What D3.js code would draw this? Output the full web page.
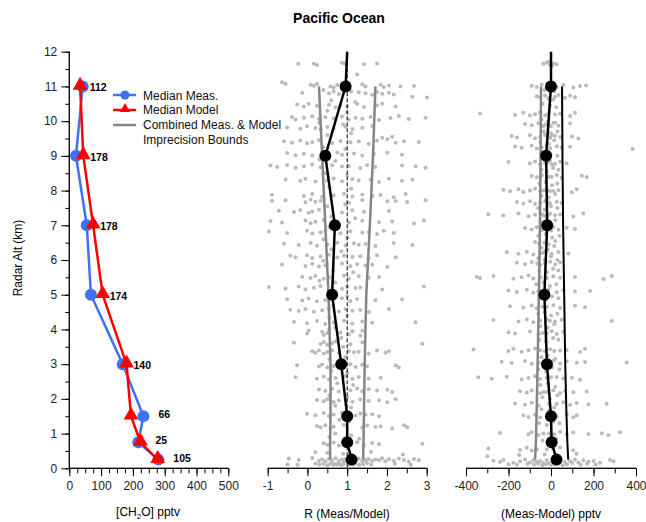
<!DOCTYPE html>
<html>
<head>
<meta charset="utf-8">
<script src="https://cdn.jsdelivr.net/npm/d3@7"></script>
<style>
  body { margin: 0; background: #fff; }
  text { font-family: "Liberation Sans", Arial, sans-serif; }
</style>
</head>
<body>
<script>
// altitude bins (km) and sample counts
var alts = [11, 9, 7, 5, 3, 1.5, 0.75, 0.25];
var counts = [112, 178, 178, 174, 140, 66, 25, 105];
// left panel: median CH2O (pptv)
var medMeas = [42, 21, 55, 68, 168, 233, 217, 280];
var medModel = [34, 44, 75, 105, 180, 194, 224, 278];
// middle panel: median ratio and imprecision bounds
var medRatio = [0.96, 0.45, 0.69, 0.62, 0.85, 1.0, 1.0, 1.11];
var ratioLo = [0.29, 0.37, 0.45, 0.53, 0.58, 0.58, 0.57, 0.57];
var ratioHi = [1.71, 1.65, 1.57, 1.48, 1.44, 1.42, 1.41, 1.40];
// right panel: median difference and bounds
var medDiff = [0, -23, -18, -31, -19, 0, 3, 26];
var diffLo = [-47, -49, -52, -57, -63, -68, -71, -75];
var diffHi = [52, 54, 57, 62, 67, 73, 77, 81];
// value at top of the plot (12 km) where the median lines start
var topRatio = 1.0, topDiff = 0;

// individual points [alt, R]
var ratioPts = [
[11.65,-0.23],[11.65,0.16],[11.62,0.24],[11.68,0.87],[11.66,0.94],[11.64,1.42],[11.66,1.75],[11.34,1.25],
[11.12,-0.64],[11.08,-0.55],[11.05,0.08],[11.02,0.16],[11.07,0.24],[11.0,0.58],[10.96,0.66],[11.04,0.75],[11.06,1.38],[11.0,1.46],[11.05,1.84],[10.98,1.92],[11.03,2.05],[11.0,2.34],[11.01,2.68],
[10.82,-0.13],[10.8,0.54],[10.85,0.66],[10.78,0.79],[10.83,1.29],[10.8,1.46],[10.76,1.63],[10.84,1.75],[10.79,1.88],[10.82,2.05],[10.77,2.17],[10.7,2.64],[10.68,3.01],
[10.48,-0.26],[10.42,-0.09],[10.5,0.03],[10.44,0.24],[10.47,0.54],[10.4,0.71],[10.46,0.83],[10.43,1.0],[10.49,1.25],[10.41,1.42],[10.45,1.75],[10.5,1.88],[10.42,2.22],
[10.12,-0.39],[10.05,-0.30],[10.1,-0.09],[10.14,0.12],[10.06,0.29],[10.11,0.45],[10.08,0.66],[10.13,0.87],[10.04,1.04],[10.1,1.21],[10.07,1.38],[10.12,1.59],[10.03,1.80],[10.09,2.09],[10.15,2.30],[10.06,2.55],[10.1,2.97],
[9.82,-0.51],[9.78,-0.18],[9.85,-0.01],[9.8,0.20],[9.76,0.33],[9.83,0.50],[9.79,0.66],[9.84,0.96],[9.77,1.13],[9.81,1.38],[9.86,1.63],[9.52,1.88],[9.48,2.01],[9.55,2.13],
[9.42,-0.59],[9.38,-0.39],[9.44,-0.18],[9.36,-0.01],[9.4,0.12],[9.45,0.29],[9.37,0.62],[9.43,0.83],[9.39,1.08],[9.41,1.29],[9.35,1.54],[9.44,1.75],[9.38,2.22],[9.42,2.43],[9.4,2.80],
[9.08,-0.51],[9.02,-0.30],[9.06,-0.09],[9.0,0.12],[9.04,0.54],[9.1,0.75],[9.03,0.87],[9.07,1.17],[9.01,1.38],[9.05,1.67],[9.09,2.01],[9.03,2.38],
[8.72,-0.93],[8.68,-0.76],[8.74,-0.51],[8.66,-0.30],[8.7,-0.09],[8.75,0.12],[8.67,0.33],[8.73,0.62],[8.69,0.87],[8.71,1.04],[8.65,1.33],[8.74,1.50],[8.68,1.71],[8.72,2.38],[8.7,2.72],[8.66,2.97],
[8.32,-0.55],[8.28,-0.18],[8.34,-0.05],[8.26,0.20],[8.3,0.50],[8.35,0.66],[8.27,0.87],[8.33,1.13],[8.29,1.29],[8.31,1.59],[8.25,1.80],[8.34,2.05],[8.28,2.38],[8.32,2.64],
[7.88,-0.89],[7.84,-0.09],[7.9,0.12],[7.82,0.37],[7.86,0.66],[7.91,0.92],[7.83,1.13],[7.89,1.38],[7.85,1.63],[7.87,1.84],[7.81,2.17],[7.9,2.47],
[7.7,-0.89],[7.72,-0.55],[7.66,-0.05],[7.74,0.08],[7.68,0.20],[7.71,0.33],[7.65,1.04],[7.73,1.38],[7.69,2.01],[7.7,2.22],[7.67,2.51],[7.72,2.97],
[7.42,-0.72],[7.38,-0.34],[7.44,-0.18],[7.36,0.03],[7.4,0.12],[7.45,0.29],[7.37,0.87],[7.43,1.13],[7.39,1.42],[7.41,2.05],
[7.12,-0.93],[7.08,-0.64],[7.14,-0.05],[7.06,0.08],[7.1,0.20],[7.15,0.41],[7.07,1.04],[7.13,1.38],[7.09,1.80],[7.11,2.13],[7.05,2.68],[7.14,2.93],
[6.82,-0.97],[6.78,-0.51],[6.84,-0.01],[6.76,0.12],[6.8,0.33],[6.85,0.45],[6.77,0.83],[6.83,1.08],[6.79,1.38],[6.81,1.54],[6.75,1.75],[6.84,1.92],[6.78,2.17],
[6.47,-0.59],[6.43,-0.22],[6.49,0.08],[6.41,0.24],[6.45,0.50],[6.5,0.75],[6.42,0.96],[6.48,1.17],[6.44,1.29],[6.46,1.46],[6.4,1.71],[6.49,2.17],[6.43,2.64],
[6.12,-0.43],[6.08,-0.30],[6.14,-0.01],[6.06,0.12],[6.1,0.33],[6.15,0.54],[6.07,0.75],[6.13,0.92],[6.09,1.13],[6.11,1.33],[6.05,1.54],[6.14,1.75],[6.08,2.22],
[5.87,-0.64],[5.83,-0.05],[5.89,0.12],[5.81,0.29],[5.85,0.45],[5.9,0.87],[5.82,1.08],[5.88,1.25],[5.84,1.46],[5.86,1.63],[5.8,2.01],
[5.52,-0.13],[5.48,0.08],[5.54,0.20],[5.46,0.41],[5.5,0.54],[5.55,0.92],[5.47,1.04],[5.53,1.29],[5.49,1.54],[5.51,1.80],
[5.22,-0.97],[5.18,-0.55],[5.24,-0.22],[5.16,-0.05],[5.2,0.16],[5.25,0.33],[5.17,0.87],[5.23,1.00],[5.19,1.21],[5.21,1.33],[5.15,1.88],[5.24,2.93],
[4.87,-0.51],[4.83,-0.13],[4.89,0.03],[4.81,0.24],[4.85,0.45],[4.9,0.87],[4.82,1.08],[4.88,1.25],[4.84,1.71],[4.86,2.38],
[4.57,-0.43],[4.53,-0.22],[4.59,-0.05],[4.51,0.16],[4.55,0.37],[4.6,0.54],[4.52,0.79],[4.58,0.96],[4.54,1.13],[4.56,1.33],[4.5,1.54],[4.59,2.05],
[4.22,-0.34],[4.18,-0.01],[4.24,0.24],[4.16,0.45],[4.2,0.66],[4.25,0.92],[4.17,1.13],[4.23,1.38],[4.19,1.63],[4.21,2.72],
[3.97,0.03],[3.93,0.37],[3.99,0.54],[3.91,0.83],[3.95,1.13],[3.96,1.38],
[3.88,-0.01],[3.84,0.41],[3.9,0.50],[3.86,1.04],[3.82,1.33],
[3.62,-0.34],[3.58,0.33],[3.64,0.41],[3.56,0.50],[3.6,0.62],[3.65,0.71],[3.57,1.08],[3.63,1.38],[3.59,2.89],
[3.37,0.12],[3.33,0.20],[3.39,0.29],[3.31,0.41],[3.35,0.50],[3.4,0.62],[3.32,0.79],[3.38,1.04],[3.34,1.17],[3.36,1.29],[3.3,1.54],[3.39,1.75],[3.33,1.96],[3.37,2.05],
[2.97,-0.26],[2.93,0.29],[2.99,0.37],[2.91,0.50],[2.95,0.66],[3.0,1.08],[2.92,1.21],[2.98,1.38],[2.94,1.50],[2.96,2.22],[2.9,2.30],
[2.62,-0.30],[2.58,0.24],[2.64,0.41],[2.56,0.54],[2.6,0.71],[2.65,0.96],[2.57,1.13],[2.63,1.29],[2.59,1.54],[2.61,1.84],
[2.27,0.29],[2.23,0.45],[2.29,0.62],[2.21,0.79],[2.25,1.08],[2.3,1.25],[2.22,1.38],[2.28,1.54],[2.24,1.75],[2.26,2.01],[2.2,2.13],
[1.97,0.24],[1.93,0.41],[1.99,0.50],[1.91,0.66],[1.95,0.79],[2.0,0.96],[1.92,1.13],[1.98,1.33],[1.94,1.54],[1.96,1.80],[1.9,2.01],[1.99,2.22],
[1.57,-0.01],[1.53,0.20],[1.59,0.41],[1.51,0.54],[1.55,0.66],[1.6,0.87],[1.52,1.21],[1.58,1.33],[1.54,1.46],[1.56,1.63],[1.5,1.80],
[1.22,0.24],[1.18,0.33],[1.24,0.45],[1.16,0.58],[1.2,0.66],[1.25,0.92],[1.17,1.38],[1.23,1.50],[1.19,1.71],[1.21,1.84],[1.15,2.13],[1.24,2.43],[1.18,2.51],
[0.72,0.41],[0.68,0.50],[0.74,0.66],[0.66,0.79],[0.7,0.96],[0.75,1.25],[0.67,1.42],[0.73,1.63],[0.69,1.80],[0.71,2.89],
[0.45,0.5],[0.42,0.9],[0.48,1.6],[0.4,2.4],[0.46,0.2],
[0.28,-0.47],[0.24,-0.22],[0.3,0.12],[0.22,0.29],[0.26,0.37],[0.2,0.45],[0.27,0.54],[0.23,0.62],[0.29,0.71],[0.21,0.79],[0.25,0.87],[0.19,0.92],[0.26,0.96],[0.22,1.21],[0.28,1.29],[0.2,1.38],[0.24,1.46],[0.27,1.54],[0.21,1.63],[0.25,1.71],[0.23,1.80],[0.29,1.88],[0.2,1.96],[0.26,2.05],[0.22,2.17],[0.28,2.30],[0.24,2.43],[0.19,2.55],[0.27,2.68],[0.23,2.80],
[0.12,-0.5],[0.1,-0.25],[0.14,0.2],[0.11,0.3],[0.13,0.4],[0.09,0.5],[0.12,0.55],[0.15,0.6],[0.1,0.65],[0.13,0.7],[0.11,0.75],[0.14,0.8],[0.09,0.85],[0.12,0.9],[0.15,1.0],[0.1,1.05],[0.13,1.1],[0.11,1.15],[0.14,1.2],[0.1,1.3],[0.12,1.4],[0.15,1.5],[0.11,1.6],[0.13,2.2],[0.1,2.6],
[10.9,0.4],[10.85,1.1],[10.6,0.6],[10.55,1.2],[10.3,0.5],[10.25,1.0],[9.95,0.3],[9.9,0.9],[9.6,0.5],[9.65,1.1],[9.25,0.4],[9.2,0.95],[8.9,0.3],[8.85,0.7],[8.5,0.45],[8.45,1.0],[8.1,0.55],[8.05,1.1],[7.55,0.5],[7.6,0.95],[7.25,0.6],[7.2,1.2],[6.95,0.55],[6.6,0.4],[6.65,1.0],[6.3,0.6],[6.25,0.85],[5.98,0.4],[5.7,0.65],[5.65,1.15],[5.35,0.7],[5.4,0.3],[5.0,0.55],[4.95,1.0],[4.7,0.65],[4.35,0.55],[4.4,1.0],[4.05,0.7],[3.75,0.85],[3.5,0.9],[3.15,0.55],[3.2,0.95],[2.8,0.6],[2.75,1.0],[2.45,0.75],[2.4,1.15],[2.1,0.55],[2.05,1.0],[1.8,0.7],[1.75,1.1],[1.4,0.8],[1.35,1.05],[1.0,0.7],[0.95,1.1],[0.9,0.55],[0.85,1.3]
];

// individual points [alt, Meas-Model pptv]
var diffPts = [
[11.65,-36],[11.68,-20],[11.62,-4],[11.66,11],[11.64,27],[11.7,-12],[11.6,5],
[11.02,-91],[10.98,-67],[11.05,-44],[10.96,-20],[11.03,3],[10.99,27],[11.04,58],[10.97,105],[11.01,137],[11.03,165],
[10.72,-67],[10.68,-51],[10.74,-28],[10.66,-12],[10.7,19],[10.75,35],[10.67,66],[10.73,90],[10.69,113],[10.6,-5],[10.62,10],
[10.22,-334],[10.18,-169],[10.24,-130],[10.16,-99],[10.2,-75],[10.25,-51],[10.17,-28],[10.23,-12],[10.19,19],[10.21,43],[10.15,90],[10.24,113],
[9.92,-122],[9.88,-91],[9.94,-59],[9.86,-36],[9.9,-12],[9.95,11],[9.87,35],[9.93,90],[9.9,-25],[9.85,0],
[9.57,-185],[9.53,-161],[9.59,-99],[9.51,-75],[9.55,-51],[9.6,-28],[9.52,-4],[9.58,19],[9.54,43],[9.56,98],[9.5,129],[9.55,-15],[9.6,5],
[9.27,-169],[9.23,-138],[9.29,-91],[9.21,-67],[9.25,-44],[9.3,-20],[9.22,-4],[9.28,27],[9.24,50],[9.26,90],[9.2,384],
[8.82,-200],[8.78,-99],[8.84,-75],[8.76,-51],[8.8,-28],[8.85,-4],[8.77,19],[8.83,43],[8.79,74],[8.8,-15],[8.75,5],
[8.42,-91],[8.38,-67],[8.44,-44],[8.36,-20],[8.4,3],[8.45,27],[8.37,50],[8.43,145],[8.39,168],[8.4,-10],
[8.02,-224],[7.98,-193],[8.04,-153],[7.96,-130],[8.0,-99],[8.05,-75],[7.97,-51],[8.03,-20],[7.99,11],[8.01,35],[7.95,98],[8.04,121],[8.0,-35],[7.98,-5],
[7.67,-161],[7.63,-130],[7.69,-99],[7.61,-75],[7.65,-51],[7.7,-28],[7.62,-4],[7.68,27],[7.64,50],[7.66,-15],
[7.32,-295],[7.28,-224],[7.34,-153],[7.26,-106],[7.3,-75],[7.35,-51],[7.27,-28],[7.33,-4],[7.29,19],[7.31,43],[7.25,105],[7.34,152],[7.3,-40],[7.28,-15],
[6.92,-122],[6.88,-91],[6.94,-67],[6.86,-44],[6.9,-20],[6.95,11],[6.87,35],[6.93,74],[6.89,113],[6.9,-30],[6.85,0],
[6.52,-75],[6.48,-55],[6.5,-30],[6.45,-10],[6.55,20],
[6.22,-208],[6.18,-153],[6.24,-114],[6.16,-83],[6.2,-51],[6.25,-28],[6.17,3],[6.23,35],[6.19,82],[6.2,-40],
[5.92,-161],[5.88,-122],[5.94,-91],[5.86,-51],[5.9,-28],[5.95,-4],[5.87,19],[5.93,43],[5.9,-65],
[5.52,-350],[5.48,-334],[5.54,-271],[5.46,-177],[5.5,-138],[5.55,-106],[5.47,-83],[5.53,11],[5.49,43],[5.51,113],[5.45,247],[5.54,286],[5.5,-50],[5.48,-20],
[5.12,-200],[5.08,-161],[5.14,-114],[5.06,-83],[5.1,-44],[5.15,-12],[5.07,27],[5.13,58],[5.09,113],[5.11,184],[5.1,-60],
[4.67,-193],[4.63,-130],[4.69,-91],[4.61,-67],[4.65,-20],[4.7,11],[4.62,43],[4.68,113],[4.64,160],[4.65,-40],
[4.27,-271],[4.23,-153],[4.29,-114],[4.21,-83],[4.25,-51],[4.3,-20],[4.22,19],[4.28,50],[4.24,286],[4.25,-5],
[3.92,-200],[3.88,-169],[3.94,-99],[3.86,-59],[3.9,-20],[3.95,3],[3.87,27],[3.93,58],[3.9,-40],
[3.42,-365],[3.38,-200],[3.44,-177],[3.36,-138],[3.4,-106],[3.45,-75],[3.37,-28],[3.43,-4],[3.39,43],[3.41,74],[3.35,137],[3.44,160],[3.4,-50],[3.38,15],
[3.07,-232],[3.03,-185],[3.09,-122],[3.01,-91],[3.05,-59],[3.1,11],[3.02,43],[3.08,74],[3.04,121],[3.06,160],[3.05,356],[3.05,-30],
[2.62,-342],[2.58,-279],[2.64,-208],[2.56,-138],[2.6,-106],[2.65,-75],[2.57,-51],[2.63,27],[2.59,58],[2.61,98],[2.55,137],[2.6,-20],[2.62,0],
[2.22,-146],[2.18,-114],[2.24,-91],[2.16,-51],[2.2,-20],[2.25,11],[2.17,43],[2.23,66],[2.19,105],[2.21,168],[2.2,-35],
[1.87,-169],[1.83,-122],[1.89,-91],[1.81,-59],[1.85,27],[1.9,58],[1.82,90],[1.88,121],[1.84,176],[1.86,262],[1.85,-10],
[1.52,-130],[1.48,-106],[1.54,-75],[1.46,-51],[1.5,27],[1.55,74],[1.47,105],[1.53,121],[1.5,-20],
[1.02,-240],[0.98,-106],[1.04,-91],[0.96,-59],[1.0,-36],[1.05,43],[0.97,74],[1.03,105],[0.99,176],[1.01,239],[0.95,270],[1.04,325],[1.0,-10],[0.98,15],
[0.57,-295],[0.53,-146],[0.59,-114],[0.51,-91],[0.55,-67],[0.6,43],[0.52,105],[0.55,-20],[0.57,10],
[0.22,-271],[0.18,-240],[0.24,-224],[0.16,-177],[0.2,-146],[0.25,-122],[0.17,-99],[0.23,-83],[0.19,-67],[0.21,-51],[0.15,-36],[0.24,-20],[0.22,43],[0.18,66],[0.2,90],[0.25,113],[0.17,129],[0.23,152],[0.19,176],[0.21,200],[0.16,231],[0.24,278],[0.2,294],
[0.12,-200],[0.1,-160],[0.13,-110],[0.11,-80],[0.14,-60],[0.09,-40],[0.12,-25],[0.15,-10],[0.1,0],[0.13,10],[0.11,20],[0.14,35],[0.09,55],[0.12,75],[0.15,100],[0.1,140],[0.13,170],[0.11,210],[0.35,-300],[0.38,-150],[0.4,-30],[0.36,30],[0.42,120],
[10.9,-30],[10.85,15],[10.5,-40],[10.45,-5],[10.4,25],[10.05,-45],[10.0,-15],[9.95,20],[9.7,-35],[9.65,0],[9.7,30],[9.4,-50],[9.35,-10],[9.45,15],[9.1,-40],[9.05,-2],[9.0,30],[8.6,-45],[8.55,-20],[8.65,10],[8.6,35],[8.2,-55],[8.25,-25],[8.15,5],[8.2,30],[7.85,-45],[7.8,-10],[7.9,20],[7.5,-60],[7.45,-30],[7.55,0],[7.5,30],[7.1,-50],[7.05,-10],[7.15,20],[6.7,-60],[6.75,-25],[6.65,5],[6.7,40],[6.35,-45],[6.3,-15],[6.4,15],[6.05,-60],[6.0,-30],[6.1,0],[6.0,30],[5.7,-55],[5.65,-20],[5.75,10],[5.7,35],[5.3,-70],[5.35,-35],[5.25,-5],[5.3,25],[4.9,-55],[4.85,-25],[4.95,5],[4.9,35],[4.45,-60],[4.5,-30],[4.4,0],[4.45,30],[4.1,-50],[4.05,-15],[4.15,15],[3.7,-55],[3.65,-25],[3.75,10],[3.7,35],[3.2,-45],[3.25,-15],[3.15,20],[2.85,-60],[2.8,-25],[2.9,5],[2.85,40],[2.4,-50],[2.45,-15],[2.35,20],[2.05,-40],[2.0,-5],[2.1,30],[1.7,-45],[1.65,-10],[1.75,15],[1.3,-55],[1.25,-20],[1.35,10],[1.3,40],[0.8,-40],[0.75,-5],[0.85,25]
];

var legendItems = ["Median Meas.", "Median Model", "Combined Meas. & Model", "Imprecision Bounds"];

var width = 646, height = 522;
var svg = d3.select("body").append("svg")
    .attr("width", width)
    .attr("height", height);

var y = d3.scaleLinear().domain([0, 12]).range([468.3, 51.7]);
var xL = d3.scaleLinear().domain([0, 500]).range([69.3, 228.3]);
var xM = d3.scaleLinear().domain([-1, 3]).range([267.7, 426.7]);
var xR = d3.scaleLinear().domain([-400, 400]).range([466, 636]);

var blue = "#4070f4", red = "#ff0000", dotGray = "#bababa", boundGray = "#858585";
// plain hyphen for negatives, like the original
var fmt = function (d) { return String(d); };

// title
svg.append("text").attr("x", 339).attr("y", 23)
    .attr("text-anchor", "middle").style("font-size", "14px").style("font-weight", "bold")
    .text("Pacific Ocean");

// x axes (major + minor ticks)
function xAxis(scale, majors, minors) {
    var g = svg.append("g").attr("transform", "translate(0," + y(0) + ")");
    g.call(d3.axisBottom(scale).tickValues(minors).tickSize(5).tickFormat(""));
    var gm = svg.append("g").attr("transform", "translate(0," + y(0) + ")");
    gm.call(d3.axisBottom(scale).tickValues(majors).tickSize(8).tickPadding(5).tickFormat(fmt));
    [g, gm].forEach(function (a) {
        a.select(".domain").attr("d", "M" + scale.range()[0] + ",0H" + scale.range()[1]);
        a.selectAll("line, path").attr("stroke", "#000");
        a.selectAll("text").style("font-size", "12px").attr("fill", "#222");
    });
}
xAxis(xL, d3.range(0, 501, 100), d3.range(0, 501, 25));
xAxis(xM, d3.range(-1, 3.01, 1), d3.range(-1, 3.01, 0.5));
xAxis(xR, d3.range(-400, 401, 200), d3.range(-400, 401, 100));

// y axis (left panel only)
var gy = svg.append("g").attr("transform", "translate(" + xL(0) + ",0)");
gy.call(d3.axisLeft(y).tickValues(d3.range(0, 12.01, 0.5)).tickSize(4).tickFormat(""));
var gy2 = svg.append("g").attr("transform", "translate(" + xL(0) + ",0)");
gy2.call(d3.axisLeft(y).tickValues(d3.range(0, 13, 1)).tickSize(8).tickPadding(4).tickFormat(fmt));
[gy, gy2].forEach(function (a) {
    a.select(".domain").attr("d", "M0," + y(0) + "V" + y(12));
    a.selectAll("line, path").attr("stroke", "#000");
    a.selectAll("text").style("font-size", "12px").attr("fill", "#222");
});

// axis titles
svg.append("text").attr("transform", "translate(22,258) rotate(-90)")
    .attr("text-anchor", "middle").style("font-size", "12px").text("Radar Alt (km)");
var xt = svg.append("text").attr("x", 148).attr("y", 516).attr("text-anchor", "middle").style("font-size", "12px");
xt.append("tspan").text("[CH");
xt.append("tspan").attr("dy", 3).style("font-size", "8px").text("2");
xt.append("tspan").attr("dy", -3).text("O] pptv");
svg.append("text").attr("x", 347).attr("y", 518).attr("text-anchor", "middle").style("font-size", "12px").text("R (Meas/Model)");
svg.append("text").attr("x", 551).attr("y", 518).attr("text-anchor", "middle").style("font-size", "12px").text("(Meas-Model) pptv");

// ---- left panel ----
var lineL = function (vals) {
    return d3.line().x(function (d, i) { return xL(vals[i]); }).y(function (d) { return y(d); })(alts);
};
svg.append("path").attr("d", lineL(medMeas)).attr("fill", "none").attr("stroke", blue).attr("stroke-width", 2.5);
svg.selectAll(".meas").data(alts).enter().append("circle")
    .attr("cx", function (d, i) { return xL(medMeas[i]); }).attr("cy", function (d) { return y(d); })
    .attr("r", 6).attr("fill", blue);
svg.append("path").attr("d", lineL(medModel)).attr("fill", "none").attr("stroke", red).attr("stroke-width", 2.5);
var tri = d3.symbol().type(d3.symbolTriangle).size(95);
svg.selectAll(".model").data(alts).enter().append("path")
    .attr("d", tri)
    .attr("transform", function (d, i) { return "translate(" + xL(medModel[i]) + "," + (y(d) - 1) + ")"; })
    .attr("fill", red);
svg.selectAll(".cnt").data(alts).enter().append("text")
    .attr("x", function (d, i) { return xL(Math.max(medMeas[i], medModel[i])) + (d >= 3 ? 7 : 15); })
    .attr("y", function (d) { return y(d) + (d >= 3 ? 5 : 2); })
    .style("font-size", "10.5px").style("font-weight", "bold").text(function (d, i) { return counts[i]; });

// legend
var lg = svg.append("g").attr("transform", "translate(113,95)");
lg.append("line").attr("x1", 0).attr("x2", 23).attr("y1", 0).attr("y2", 0).attr("stroke", blue).attr("stroke-width", 2.5);
lg.append("circle").attr("cx", 12).attr("cy", 0).attr("r", 4.5).attr("fill", blue);
lg.append("line").attr("x1", 0).attr("x2", 23).attr("y1", 15).attr("y2", 15).attr("stroke", red).attr("stroke-width", 2.5);
lg.append("path").attr("d", d3.symbol().type(d3.symbolTriangle).size(45)).attr("transform", "translate(12,14)").attr("fill", red);
lg.append("line").attr("x1", 0).attr("x2", 23).attr("y1", 30).attr("y2", 30).attr("stroke", boundGray).attr("stroke-width", 2.5);
lg.selectAll("text").data(legendItems).enter().append("text")
    .attr("x", 30).attr("y", function (d, i) { return i * 14.7 + 4.5; })
    .style("font-size", "12px").attr("fill", "#111").text(function (d) { return d; });

// ---- middle panel ----
svg.append("g").selectAll("circle").data(ratioPts).enter().append("circle")
    .attr("cx", function (d) { return xM(d[1]); }).attr("cy", function (d) { return y(d[0]); })
    .attr("r", 2).attr("fill", dotGray);
svg.append("line").attr("x1", xM(1)).attr("x2", xM(1)).attr("y1", y(0)).attr("y2", y(12))
    .attr("stroke", "#000").attr("stroke-width", 1).attr("stroke-dasharray", "4,2");
function boundLine(scale, vals) {
    return d3.line().x(function (d, i) { return scale(vals[i]); }).y(function (d) { return y(d); })(alts);
}
svg.append("path").attr("d", boundLine(xM, ratioLo)).attr("fill", "none").attr("stroke", boundGray).attr("stroke-width", 2.5);
svg.append("path").attr("d", boundLine(xM, ratioHi)).attr("fill", "none").attr("stroke", boundGray).attr("stroke-width", 2.5);
var mLine = [[12, topRatio]].concat(alts.map(function (a, i) { return [a, medRatio[i]]; }));
svg.append("path").attr("d", d3.line().x(function (d) { return xM(d[1]); }).y(function (d) { return y(d[0]); })(mLine))
    .attr("fill", "none").attr("stroke", "#000").attr("stroke-width", 2.5);
svg.selectAll(".mr").data(alts).enter().append("circle")
    .attr("cx", function (d, i) { return xM(medRatio[i]); }).attr("cy", function (d) { return y(d); })
    .attr("r", 6).attr("fill", "#000");

// ---- right panel ----
svg.append("g").selectAll("circle").data(diffPts).enter().append("circle")
    .attr("cx", function (d) { return xR(d[1]); }).attr("cy", function (d) { return y(d[0]); })
    .attr("r", 2).attr("fill", dotGray);
svg.append("path").attr("d", boundLine(xR, diffLo)).attr("fill", "none").attr("stroke", boundGray).attr("stroke-width", 2.5);
svg.append("path").attr("d", boundLine(xR, diffHi)).attr("fill", "none").attr("stroke", "#000").attr("stroke-width", 2);
var dLine = [[12, topDiff]].concat(alts.map(function (a, i) { return [a, medDiff[i]]; }));
svg.append("path").attr("d", d3.line().x(function (d) { return xR(d[1]); }).y(function (d) { return y(d[0]); })(dLine))
    .attr("fill", "none").attr("stroke", "#000").attr("stroke-width", 2.5);
svg.selectAll(".md").data(alts).enter().append("circle")
    .attr("cx", function (d, i) { return xR(medDiff[i]); }).attr("cy", function (d) { return y(d); })
    .attr("r", 6).attr("fill", "#000");
</script>
</body>
</html>
